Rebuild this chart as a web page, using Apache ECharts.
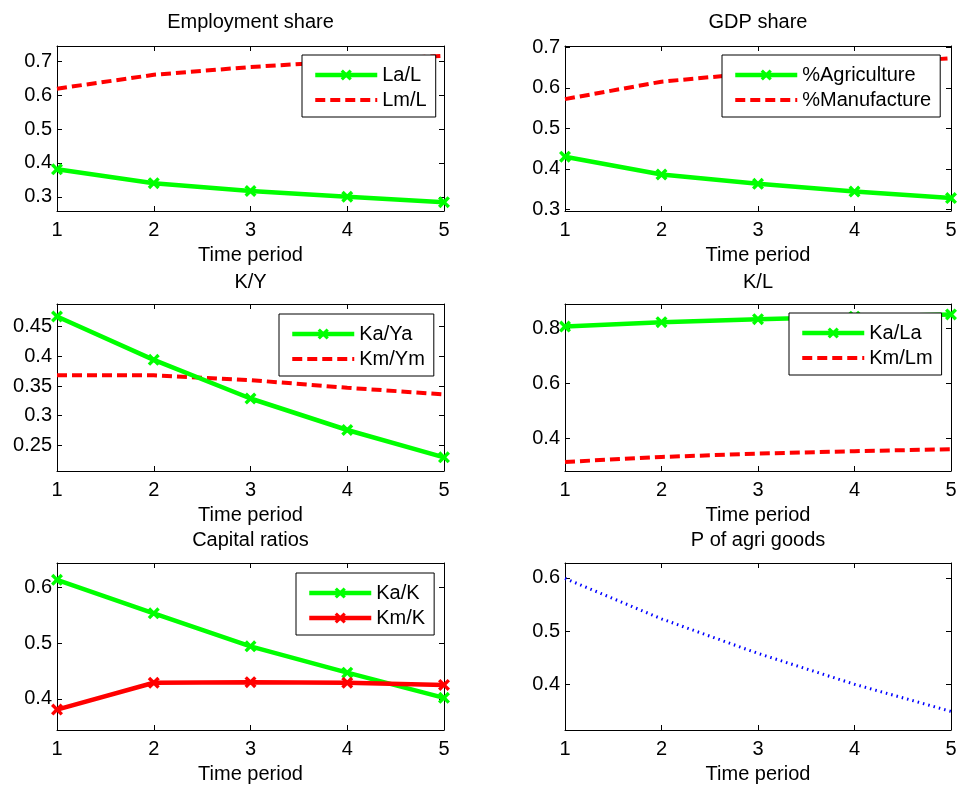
<!DOCTYPE html>
<html>
<head>
<meta charset="utf-8">
<script src="https://cdn.jsdelivr.net/npm/echarts@6/dist/echarts.min.js"></script>
<style>
html,body{margin:0;padding:0;background:#fff;}
#chart{width:965px;height:794px;}
</style>
</head>
<body>
<div id="chart"></div>
<script>
// ---- data ----
const periods = [1, 2, 3, 4, 5];
const xTicks = [1, 2, 3, 4, 5];

const titles = ['Employment share', 'GDP share', 'K/Y', 'K/L', 'Capital ratios', 'P of agri goods'];

const laL = [0.381, 0.340, 0.317, 0.300, 0.284];
const lmL = [0.619, 0.660, 0.683, 0.700, 0.716];

const agriShare = [0.430, 0.386, 0.363, 0.344, 0.328];
const manuShare = [0.572, 0.615, 0.637, 0.656, 0.673];

const kaYa = [0.467, 0.394, 0.329, 0.276, 0.230];
const kmYm = [0.368, 0.368, 0.360, 0.347, 0.336];

const kaLa = [0.806, 0.822, 0.833, 0.842, 0.850];
const kmLm = [0.315, 0.333, 0.345, 0.354, 0.361];

const kaK = [0.613, 0.553, 0.494, 0.447, 0.402];
const kmK = [0.381, 0.429, 0.430, 0.429, 0.425];

const pAgri = [0.599, 0.523, 0.458, 0.400, 0.349];

const yTicks1 = [0.3, 0.4, 0.5, 0.6, 0.7];
const yTicks2 = [0.3, 0.4, 0.5, 0.6, 0.7];
const yTicks3 = [0.25, 0.3, 0.35, 0.4, 0.45];
const yTicks4 = [0.4, 0.6, 0.8];
const yTicks5 = [0.4, 0.5, 0.6];
const yTicks6 = [0.4, 0.5, 0.6];

const yRanges = [[0.258, 0.745], [0.296, 0.703], [0.207, 0.488], [0.282, 0.888], [0.3445, 0.643], [0.314, 0.628]];
const yTickSets = [yTicks1, yTicks2, yTicks3, yTicks4, yTicks5, yTicks6];

// ---- layout ----
const FONT = '"Liberation Sans", Arial, Helvetica, sans-serif';
const colX = [{left: 57, width: 387}, {left: 565, width: 386}];
const rowY = [{top: 46, height: 165}, {top: 304, height: 167}, {top: 563, height: 167}];
const titleTop = [12, 272, 530];

const GREEN = '#00ff00', RED = '#ff0000', BLUE = '#0000ff';
const XMARK = 'path://M0,2 L2,0 L5,3 L8,0 L10,2 L7,5 L10,8 L8,10 L5,7 L2,10 L0,8 L3,5 Z';

const grids = [], xAxes = [], yAxes = [], titleOpts = [];
for (let i = 0; i < 6; i++) {
  const c = colX[i % 2], r = rowY[Math.floor(i / 2)];
  grids.push({left: c.left, top: r.top, width: c.width, height: r.height, containLabel: false});
  titleOpts.push({
    text: titles[i], left: c.left + c.width / 2, top: titleTop[Math.floor(i / 2)], textAlign: 'center', padding: 0,
    textStyle: {fontFamily: FONT, fontSize: 20, fontWeight: 'normal', color: '#000'}
  });
  const axLine = {show: true, onZero: false, lineStyle: {color: '#000', width: 1}};
  xAxes.push({
    type: 'value', gridIndex: i, position: 'bottom', min: 1, max: 5, interval: 1,
    axisLine: axLine, axisTick: {show: true, inside: true, length: 5, lineStyle: {color: '#000'}},
    axisLabel: {show: true, margin: 9, fontFamily: FONT, fontSize: 20, color: '#000'},
    splitLine: {show: false},
    name: 'Time period', nameLocation: 'middle', nameGap: 34,
    nameTextStyle: {fontFamily: FONT, fontSize: 20, color: '#000'}
  });
  xAxes.push({
    type: 'value', gridIndex: i, position: 'top', min: 1, max: 5, interval: 1,
    axisLine: axLine, axisTick: {show: true, inside: true, length: 5, lineStyle: {color: '#000'}},
    axisLabel: {show: false}, splitLine: {show: false}
  });
  const yr = yRanges[i], yt = yTickSets[i];
  yAxes.push({
    type: 'value', gridIndex: i, position: 'left', min: yr[0], max: yr[1],
    axisLine: axLine,
    axisTick: {show: true, inside: true, length: 5, customValues: yt, lineStyle: {color: '#000'}},
    axisLabel: {show: true, margin: 5, customValues: yt, fontFamily: FONT, fontSize: 20, color: '#000'},
    splitLine: {show: false}
  });
  yAxes.push({
    type: 'value', gridIndex: i, position: 'right', min: yr[0], max: yr[1],
    axisLine: axLine,
    axisTick: {show: true, inside: true, length: 5, customValues: yt, lineStyle: {color: '#000'}},
    axisLabel: {show: false, customValues: yt},
    splitLine: {show: false}
  });
}

function pts(arr) { return periods.map((p, k) => [p, arr[k]]); }

function markedLine(name, arr, panel, color) {
  return {
    type: 'line', name: name, xAxisIndex: 2 * panel, yAxisIndex: 2 * panel, data: pts(arr),
    symbol: XMARK, symbolSize: 12, showSymbol: true, clip: false,
    lineStyle: {color: color, width: 4.5},
    itemStyle: {color: color},
    emphasis: {disabled: true}, z: 3
  };
}
function dashedLine(name, arr, panel) {
  return {
    type: 'line', name: name, xAxisIndex: 2 * panel, yAxisIndex: 2 * panel, data: pts(arr),
    symbol: 'none', clip: false,
    lineStyle: {color: RED, width: 4, type: [10, 5]},
    itemStyle: {color: RED},
    emphasis: {disabled: true}, z: 2
  };
}

const series = [
  markedLine('La/L', laL, 0, GREEN), dashedLine('Lm/L', lmL, 0),
  markedLine('%Agriculture', agriShare, 1, GREEN), dashedLine('%Manufacture', manuShare, 1),
  markedLine('Ka/Ya', kaYa, 2, GREEN), dashedLine('Km/Ym', kmYm, 2),
  markedLine('Ka/La', kaLa, 3, GREEN), dashedLine('Km/Lm', kmLm, 3),
  markedLine('Ka/K', kaK, 4, GREEN), markedLine('Km/K', kmK, 4, RED),
  {
    type: 'line', name: 'P of agri goods', xAxisIndex: 10, yAxisIndex: 10, data: pts(pAgri),
    symbol: 'none', clip: false,
    lineStyle: {color: BLUE, width: 3, type: [1.5, 4]},
    emphasis: {disabled: true}
  }
];

function legendAt(left, top, names, dashedNames) {
  return {
    orient: 'vertical', left: left, top: top,
    data: names.map(n => dashedNames.indexOf(n) >= 0 ? {name: n, itemStyle: {opacity: 0}} : {name: n}),
    backgroundColor: '#fff', borderColor: '#000', borderWidth: 1, borderRadius: 0,
    padding: [10, 9, 7, 11], itemGap: 5, itemWidth: 62, itemHeight: 14,
    selectedMode: false,
    lineStyle: {width: 'inherit', type: 'inherit'},
    textStyle: {fontFamily: FONT, fontSize: 20, color: '#000', lineHeight: 20}
  };
}
const legends = [
  legendAt(302, 55, ['La/L', 'Lm/L'], ['Lm/L']),
  legendAt(722, 55, ['%Agriculture', '%Manufacture'], ['%Manufacture']),
  legendAt(279, 314, ['Ka/Ya', 'Km/Ym'], ['Km/Ym']),
  legendAt(789, 313, ['Ka/La', 'Km/Lm'], ['Km/Lm']),
  legendAt(296, 573, ['Ka/K', 'Km/K'], [])
];

const chart = echarts.init(document.getElementById('chart'), null, {renderer: 'canvas'});
chart.setOption({
  animation: false,
  backgroundColor: '#fff',
  title: titleOpts,
  grid: grids,
  xAxis: xAxes,
  yAxis: yAxes,
  legend: legends,
  series: series
});
</script>
</body>
</html>
